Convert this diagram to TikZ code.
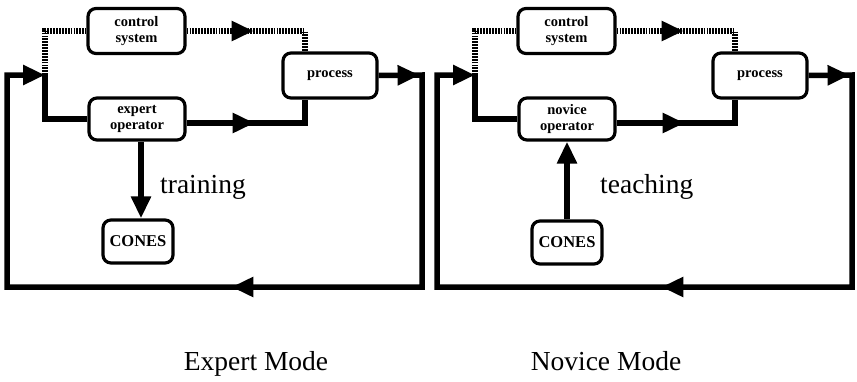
\documentclass[tikz,border=0pt]{standalone}
\usepackage{fontspec}
\setmainfont{Liberation Serif}
\usetikzlibrary{arrows.meta,decorations.markings}

\tikzset{
  bigtip/.tip={Triangle[length=22pt,width=19pt]},
  block/.style={draw, line width=3.2pt, rounded corners=8pt, fill=white,
    align=center, inner sep=0pt, font=\fontsize{14.5}{16}\selectfont\bfseries},
  wire/.style={line width=5.5pt, line join=miter},
  ctrlwire/.style={line width=6pt, dash pattern=on 1.8pt off 1.1pt},
  arrowpos/.style={postaction={decorate, decoration={markings,
    mark=at position #1 with {\arrow{bigtip}}}}},
  bigtext/.style={inner sep=0pt, font=\fontsize{27.5}{27.5}\selectfont},
}

\begin{document}
\begin{tikzpicture}[x=1pt, y=-1pt]
    \useasboundingbox (0,0) rectangle (857,381);

    % Expert mode
    \begin{scope}
        \node[block, minimum width=97pt, minimum height=45pt] (ctrlA) at (136.5,31) {control\\system};
        \node[block, minimum width=94pt, minimum height=45pt] (procA) at (330,75.5) {process};
        \node[block, minimum width=96pt, minimum height=42pt] (opA) at (137,119) {expert\\operator};
        \node[block, minimum width=70pt, minimum height=43pt, font=\fontsize{16.5}{16.5}\selectfont\bfseries] (conesA) at (138,241.5) {CONES};
        \coordinate (jA) at (45,75);
        \coordinate (neA) at (422,75);
        \coordinate (swA) at (7,287);

        % control path (dotted)
        \draw[ctrlwire] (jA) |- (ctrlA.west);
        \draw[ctrlwire, arrowpos=67pt] (ctrlA.east) -| ([xshift=-25pt]procA.north);

        % operator loop
        \draw[wire] (opA.west) -| (jA);
        \draw[wire, arrowpos=68pt] ([yshift=-4pt]opA.east) -| ([xshift=-25pt]procA.south);
        \draw[wire, arrowpos=41pt, arrowpos=446pt, -{bigtip}] (procA.east) -- (neA) |- (swA) |- (jA);

        % operator trains the network
        \draw[wire, -{bigtip}] ([xshift=4pt]opA.south) -- ([xshift=4pt]opA.south |- conesA.north);
        \node[bigtext, anchor=base west] (trainA) at (160,193) {training};
        \node[bigtext, anchor=base] (modeA) at (256,370) {Expert Mode};
    \end{scope}

    % Novice mode
    \begin{scope}[xshift=430pt]
        \node[block, minimum width=97pt, minimum height=45pt] (ctrlB) at (136.5,31) {control\\system};
        \node[block, minimum width=94pt, minimum height=45pt] (procB) at (330,75.5) {process};
        \node[block, minimum width=96pt, minimum height=42pt] (opB) at (137,119) {novice\\operator};
        \node[block, minimum width=70pt, minimum height=43pt, font=\fontsize{16.5}{16.5}\selectfont\bfseries] (conesB) at (137,242.5) {CONES};
        \coordinate (jB) at (45,75);
        \coordinate (neB) at (422,75);
        \coordinate (swB) at (7,287);

        % control path (dotted)
        \draw[ctrlwire] (jB) |- (ctrlB.west);
        \draw[ctrlwire, arrowpos=67pt] (ctrlB.east) -| ([xshift=-25pt]procB.north);

        % operator loop
        \draw[wire] (opB.west) -| (jB);
        \draw[wire, arrowpos=68pt] ([yshift=-4pt]opB.east) -| ([xshift=-25pt]procB.south);
        \draw[wire, arrowpos=41pt, arrowpos=446pt, -{bigtip}] (procB.east) -- (neB) |- (swB) |- (jB);

        % network teaches the operator
        \draw[wire, -{bigtip}] (conesB.north) -- (conesB.north |- opB.south);
        \node[bigtext, anchor=base west] (teachB) at (170,193) {teaching};
        \node[bigtext, anchor=base] (modeB) at (176,370) {Novice Mode};
    \end{scope}

\end{tikzpicture}
\end{document}
